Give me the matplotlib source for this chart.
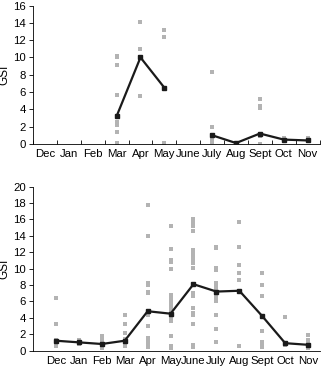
import numpy as np
import matplotlib.pyplot as plt

plt.rcParams["font.family"] = ["Liberation Sans", "DejaVu Sans"]
plt.rcParams["font.size"] = 8.2

months = ["Dec", "Jan", "Feb", "Mar", "Apr", "May", "June", "July", "Aug", "Sept", "Oct", "Nov"]

# top panel: monthly means (None = no sample)
top_mean = [None, None, None, 3.2, 10.0, 6.5, None, 1.0, 0.1, 1.2, 0.5, 0.4]
top_points = {
    "Mar": [10.2, 10.0, 9.1, 5.7, 2.5, 2.2, 1.4, 0.1, 0.0],
    "Apr": [14.1, 11.0, 10.0, 5.5],
    "May": [13.2, 12.4, 0.1],
    "July": [8.3, 2.0, 1.0, 0.5, 0.2],
    "Aug": [0.1, 0.05],
    "Sept": [5.2, 4.4, 4.2, 1.2, 0.9, 0.0],
    "Oct": [0.7, 0.5],
    "Nov": [0.7, 0.4],
}

# bottom panel
bot_mean = [1.2, 1.0, 0.8, 1.2, 4.8, 4.5, 8.1, 7.2, 7.3, 4.2, 0.9, 0.7]
bot_points = {
    "Dec": [6.4, 3.3, 1.3, 1.1, 0.8, 0.5],
    "Jan": [1.3, 1.0, 0.8],
    "Feb": [1.8, 1.5, 1.2, 0.9, 0.5, 0.3],
    "Mar": [4.4, 3.2, 2.1, 1.4, 1.0, 0.5],
    "Apr": [17.8, 14.0, 8.2, 8.0, 7.2, 7.0, 4.8, 4.4, 3.0, 1.5, 1.2, 0.8, 0.6, 0.4],
    "May": [15.2, 12.4, 11.0, 10.8, 9.9, 6.8, 6.4, 5.9, 5.5, 5.2, 4.8, 4.0, 3.6, 1.8, 0.6, 0.3],
    "June": [16.0, 15.6, 15.2, 14.6, 12.3, 11.9, 11.5, 11.1, 10.7, 10.1, 8.0, 7.0,
             6.6, 5.2, 4.6, 4.3, 3.2, 0.7, 0.4],
    "July": [12.7, 12.5, 10.1, 9.8, 8.2, 7.9, 7.5, 7.0, 6.7, 6.3, 6.0, 4.4, 2.6, 1.0],
    "Aug": [15.7, 12.6, 10.5, 9.5, 8.6, 7.3, 0.6],
    "Sept": [9.5, 8.0, 6.7, 2.4, 1.1, 0.8, 0.4],
    "Oct": [4.1, 0.9, 0.7],
    "Nov": [1.9, 1.3, 1.0, 0.7, 0.3],
}


def draw(ax, means, points, ymax, xlim, minor_ticks):
    x = np.arange(len(months))
    for m, vals in points.items():
        i = months.index(m)
        ax.scatter([i] * len(vals), vals, marker="s", s=5, color="#b3b3b3",
                   linewidths=0, zorder=2)
    y = np.array([np.nan if v is None else v for v in means], dtype=float)
    ax.plot(x, y, color="#1a1a1a", lw=1.6, marker="s", ms=2.6, zorder=3)
    ax.set_xlim(*xlim)
    ax.set_ylim(0, ymax)
    ax.set_yticks(np.arange(0, ymax + 1, 2))
    ax.set_xticks(x)
    ax.set_xticklabels(months)
    ax.tick_params(axis="x", length=0, pad=4)
    if minor_ticks:
        ax.set_xticks(np.arange(-0.5, 12, 1), minor=True)
        ax.tick_params(axis="x", which="minor", direction="in", length=3, width=0.6)
    ax.tick_params(axis="y", length=3, width=0.6, pad=2)
    for s in ["top", "right"]:
        ax.spines[s].set_visible(False)
    for s in ["left", "bottom"]:
        ax.spines[s].set_linewidth(0.6)
    ax.set_ylabel("GSI", labelpad=2, fontsize=8.5)


fig = plt.figure(figsize=(3.22, 3.69), dpi=100)
ax1 = fig.add_axes([0.1025, 0.61, 0.89, 0.375])
ax2 = fig.add_axes([0.1025, 0.05, 0.89, 0.444])

draw(ax1, top_mean, top_points, 16, (-0.5, 11.5), True)
draw(ax2, bot_mean, bot_points, 20, (-1.0, 11.5), False)

fig.savefig("out.png", dpi=100)
